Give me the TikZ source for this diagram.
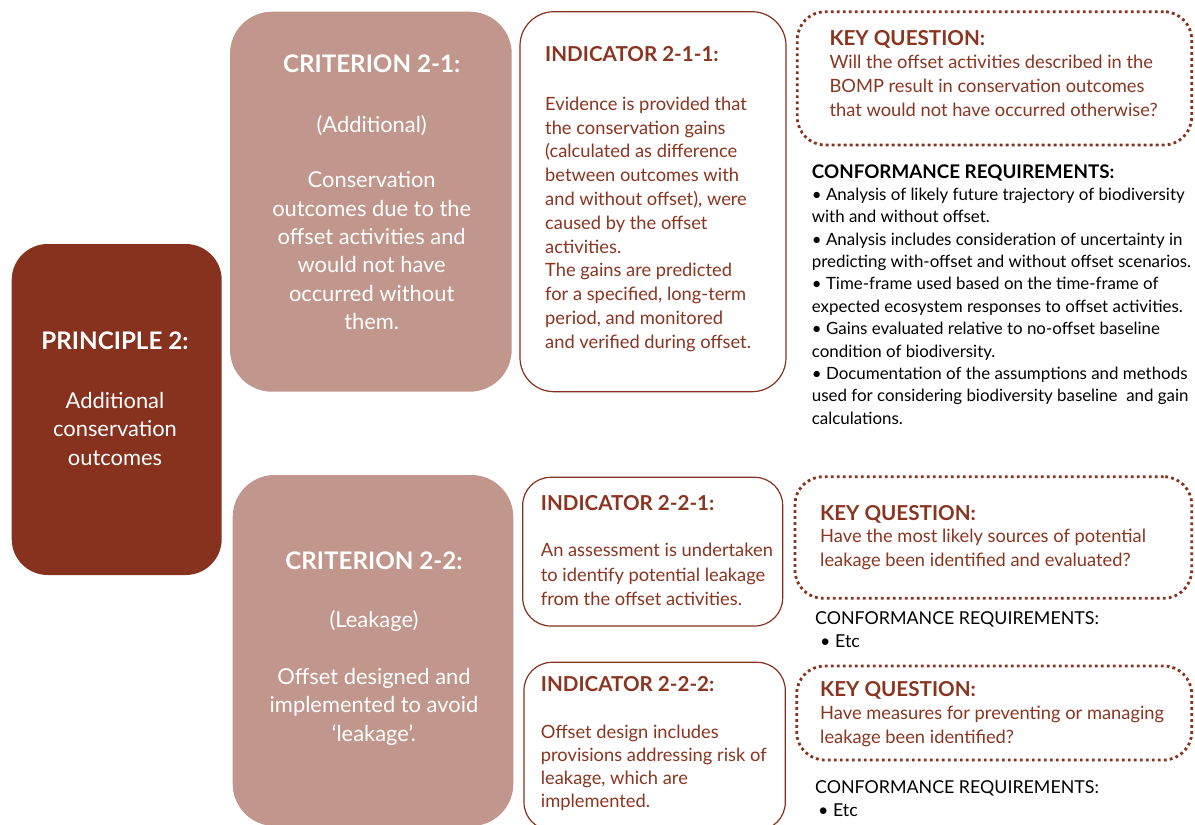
\documentclass[tikz,border=0pt]{standalone}
\usepackage{fontspec}
\setmainfont{Lato}
\definecolor{pdark}{HTML}{86321E}
\definecolor{plight}{HTML}{C1968C}
\definecolor{ptext}{HTML}{8A3520}
\tikzset{
  principlebox/.style={rectangle, rounded corners=36pt, fill=pdark, draw=none, inner sep=0pt},
  critbox/.style={rectangle, rounded corners=42pt, fill=plight, draw=none, inner sep=0pt},
  indbox/.style={rectangle, rounded corners=#1, draw=pdark, line width=1.2pt, fill=white, inner sep=0pt},
  indbox/.default=34pt,
  keybox/.style={rectangle, rounded corners=28pt, draw=pdark, line width=2.8pt, dash pattern=on 2.8pt off 3.2pt, inner sep=0pt},
  ltxt/.style={anchor=north west, inner sep=0pt, align=left},
  ctxt/.style={anchor=north, inner sep=0pt, align=center},
  whitehead/.style={ctxt, text=white, font=\fontsize{24.2}{28.3}\selectfont\bfseries},
  whitebody/.style={ctxt, text=white, font=\fontsize{21.9}{28.3}\selectfont},
  indhead/.style={ltxt, text=ptext, font=\fontsize{20.6}{24}\selectfont\bfseries},
  indbody/.style={ltxt, text=ptext, font=\fontsize{18.3}{#1}\selectfont},
  indbody/.default=24pt,
  crhead/.style={ltxt, text=black, font=\fontsize{18.8}{22.4}\selectfont\bfseries},
  crbody/.style={ltxt, text=black, font=\fontsize{16.9}{22.4}\selectfont},
  crplain/.style={ltxt, text=black, font=\fontsize{17.8}{22.8}\selectfont},
}
\begin{document}
\begin{tikzpicture}[x=1pt,y=-1pt]
\useasboundingbox (0,0) rectangle (1195,825);
\clip (0,0) rectangle (1195,825);

% principle
\node[principlebox, minimum width=210pt, minimum height=331pt] (p) at (116.7,409.5) {};
\node[whitehead] (ph) at (115,331.7) {PRINCIPLE 2:};
\node[whitebody] (pb) at (115,392.3) {Additional\\conservation\\outcomes};

% criterion 2-1
\node[critbox, minimum width=281.7pt, minimum height=380pt] (c1) at (370.85,201.7) {};
\node[whitehead] (c1h) at (371.7,55) {CRITERION 2-1:};
\node[whitebody] (c1s) at (371.7,115) {(Additional)};
\node[whitebody] (c1b) at (371.7,171.7) {Conservation\\outcomes due to the\\offset activities and\\would not have\\occurred without\\them.};

% criterion 2-2
\node[critbox, minimum width=280.6pt, minimum height=351pt] (c2) at (373,650.5) {};
\node[whitehead] (c2h) at (374,551.7) {CRITERION 2-2:};
\node[whitebody] (c2s) at (374,610) {(Leakage)};
\node[whitebody] (c2b) at (374,668.3) {Offset designed and\\implemented to avoid\\‘leakage’.};

% indicator 2-1-1
\node[indbox, minimum width=266pt, minimum height=380pt] (i1) at (653,201.7) {};
\node[indhead] (i1h) at (545,46.7) {INDICATOR 2-1-1:};
\node[indbody=23.8pt] (i1b) at (545,96.7) {Evidence is provided that\\the conservation gains\\(calculated as difference\\between outcomes with\\and without offset), were\\caused by the offset\\activities.\\The gains are predicted\\for a specified, long-term\\period, and monitored\\and verified during offset.};

% indicator 2-2-1
\node[indbox=28pt, minimum width=260pt, minimum height=148.7pt] (i21) at (652.7,551.65) {};
\node[indhead] (i21h) at (540.7,495) {INDICATOR 2-2-1:};
\node[indbody=24.2pt] (i21b) at (540.7,543.3) {An assessment is undertaken\\to identify potential leakage\\from the offset activities.};

% indicator 2-2-2
\node[indbox=28pt, minimum width=261.3pt, minimum height=168pt] (i22) at (654.65,746.3) {};
\node[indhead] (i22h) at (540.7,676.7) {INDICATOR 2-2-2:};
\node[indbody=23pt] (i22b) at (540.7,725) {Offset design includes\\provisions addressing risk of\\leakage, which are\\implemented.};

% key question 1
\node[keybox, minimum width=394.4pt, minimum height=133.3pt] (k1) at (994.5,78.35) {};
\node[indhead] (k1h) at (829.3,30.7) {KEY QUESTION:};
\node[indbody] (k1b) at (829.3,55) {Will the offset activities described in the\\BOMP result in conservation outcomes\\that would not have occurred otherwise?};

% conformance 1
\node[crhead] (r1h) at (811.7,165) {CONFORMANCE REQUIREMENTS:};
\node[crbody] (r1b) at (811.7,187.7) {• Analysis of likely future trajectory of biodiversity\\with and without offset.\\• Analysis includes consideration of uncertainty in\\predicting with-offset and without offset scenarios.\\• Time-frame used based on the time-frame of\\expected ecosystem responses to offset activities.\\• Gains evaluated relative to no-offset baseline\\condition of biodiversity.\\• Documentation of the assumptions and methods\\used for considering biodiversity baseline\ \ and gain\\calculations.};

% key question 2
\node[keybox, minimum width=396.7pt, minimum height=121.6pt] (k2) at (993.35,537.5) {};
\node[indhead] (k2h) at (820,505) {KEY QUESTION:};
\node[indbody] (k2b) at (820,529.3) {Have the most likely sources of potential\\leakage been identified and evaluated?};
\node[crplain] (r2b) at (815,611.7) {CONFORMANCE REQUIREMENTS:\\\hspace*{5pt}• Etc};

% key question 3
\node[keybox, minimum width=395pt, minimum height=94pt] (k3) at (994.2,713) {};
\node[indhead] (k3h) at (820,681.7) {KEY QUESTION:};
\node[indbody] (k3b) at (820,706) {Have measures for preventing or managing\\leakage been identified?};
\node[crplain] (r3b) at (815,780.7) {CONFORMANCE REQUIREMENTS:\\\hspace*{3pt}• Etc};
\end{tikzpicture}
\end{document}
